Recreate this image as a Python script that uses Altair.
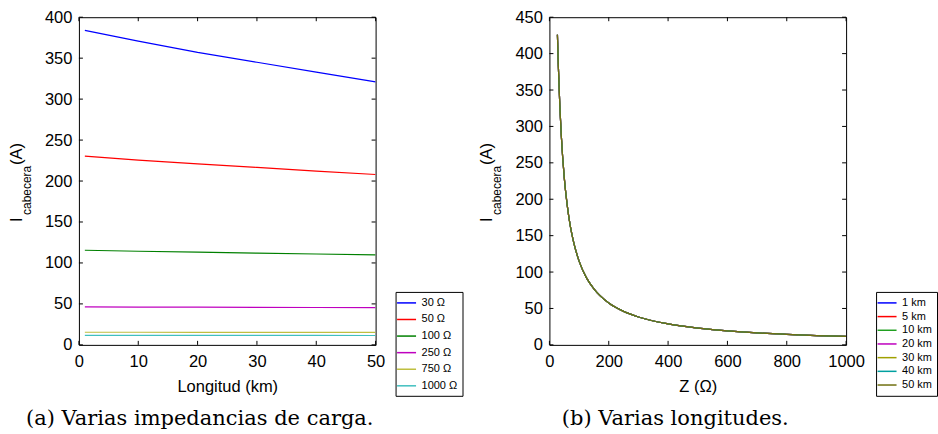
import altair as alt
import pandas as pd

# ---------- data: panel (a) ----------
long_km = [1, 10, 20, 30, 40, 50]
i_30 = [384, 370.7, 357, 345, 333, 321]
i_50 = [230.5, 225.6, 221, 216.6, 212, 208]
i_100 = [115.5, 114.3, 113.1, 112.0, 110.9, 109.8]
i_250 = [46.3, 46.1, 46.0, 45.8, 45.6, 45.5]
i_750 = [15.4, 15.4, 15.3, 15.3, 15.3, 15.2]
i_1000 = [11.6, 11.6, 11.5, 11.5, 11.5, 11.4]
imp_labels = ["30 Ω", "50 Ω", "100 Ω", "250 Ω", "750 Ω", "1000 Ω"]
imp_colors = ["#0000ff", "#ff0000", "#008000", "#bf00bf", "#bfbf40", "#40bfbf"]

# ---------- data: panel (b) ----------
z_ohm = [27, 30, 35, 40, 50, 60, 70, 80, 100, 125, 150, 200, 250, 300, 400, 500, 600, 700, 800, 900, 1000]
i_z = [426, 384, 329, 288, 230, 192, 164, 144, 115, 92, 77, 57.5, 46, 38.3, 28.8, 23, 19.2, 16.4, 14.4, 12.8, 11.5]
len_labels = ["1 km", "5 km", "10 km", "20 km", "30 km", "40 km", "50 km"]
len_colors = ["#0000ff", "#ff0000", "#20a020", "#bf00bf", "#a0a000", "#00a0a0", "#707010"]

xticks_a = [0, 10, 20, 30, 40, 50]
yticks_a = [0, 50, 100, 150, 200, 250, 300, 350, 400]
xticks_b = [0, 200, 400, 600, 800, 1000]
yticks_b = [0, 50, 100, 150, 200, 250, 300, 350, 400, 450]

caption_a = "(a) Varias impedancias de carga."
caption_b = "(b) Varias longitudes."

# ---------- tables ----------
series_a = [i_30, i_50, i_100, i_250, i_750, i_1000]
rows_a = []
for lab, vals in zip(imp_labels, series_a):
    for x, v in zip(long_km, vals):
        rows_a.append({"x": x, "y": v, "s": lab})
df_a = pd.DataFrame(rows_a)

rows_b = []
for lab in len_labels:
    for x, v in zip(z_ohm, i_z):
        rows_b.append({"x": x, "y": v, "s": lab})
df_b = pd.DataFrame(rows_b)

W, H = 297, 328
FONT = "Liberation Sans"
SERIF = "DejaVu Serif"
TL = 4


def panel(df, xdom, ydom, xt, yt, xtitle, labels, colors, legend_x, row_pad, caption, cap_x, interp):
    xs = alt.Scale(domain=xdom, nice=False, zero=False)
    ys = alt.Scale(domain=ydom, nice=False, zero=False)
    ax_x = alt.Axis(values=xt, title=xtitle, labelPadding=9, titlePadding=8, format="d", labelFlush=False)
    ax_y = alt.Axis(values=yt, title=None, labelPadding=7, format="d", labelFlush=False)

    def X():
        return alt.X("x:Q", scale=xs, axis=ax_x)

    def Y():
        return alt.Y("y:Q", scale=ys, axis=ax_y)

    lines = alt.Chart(df).mark_line(strokeWidth=1.2, clip=True, interpolate=interp).encode(
        x=X(),
        y=Y(),
        color=alt.Color(
            "s:N",
            sort=labels,
            scale=alt.Scale(domain=labels, range=colors),
            legend=alt.Legend(
                title=None,
                orient="none",
                legendX=legend_x,
                legendY=275,
                symbolType="M-1.9,0H1.9",
                symbolSize=100,
                symbolStrokeWidth=1.5,
                labelFont=FONT,
                labelFontSize=11,
                labelColor="black",
                labelOffset=9,
                padding=5,
                rowPadding=row_pad,
                strokeColor="black",
                fillColor="white",
                cornerRadius=0,
            ),
        ),
    )

    dfx = pd.DataFrame({"x": xt})
    dfy = pd.DataFrame({"y": yt})
    tb = alt.Chart(dfx).mark_rule(color="black", strokeWidth=1).encode(x=X(), y=alt.value(H), y2=alt.value(H - TL))
    tt = alt.Chart(dfx).mark_rule(color="black", strokeWidth=1).encode(x=X(), y=alt.value(0), y2=alt.value(TL))
    tlft = alt.Chart(dfy).mark_rule(color="black", strokeWidth=1).encode(y=Y(), x=alt.value(0), x2=alt.value(TL))
    trgt = alt.Chart(dfy).mark_rule(color="black", strokeWidth=1).encode(y=Y(), x=alt.value(W), x2=alt.value(W - TL))

    one = pd.DataFrame({"k": [0]})
    t_i = alt.Chart(one).mark_text(text="I", font=FONT, fontSize=16.5, angle=270, align="left",
                                   baseline="alphabetic", color="black").encode(x=alt.value(-57), y=alt.value(205))
    t_sub = alt.Chart(one).mark_text(text="cabecera", font=FONT, fontSize=12, angle=270, align="left",
                                     baseline="alphabetic", color="black").encode(x=alt.value(-48), y=alt.value(198))
    t_a = alt.Chart(one).mark_text(text="(A)", font=FONT, fontSize=16.5, angle=270, align="left",
                                   baseline="alphabetic", color="black").encode(x=alt.value(-57), y=alt.value(148))
    cap = alt.Chart(one).mark_text(text=caption, font=SERIF, fontSize=21, align="center",
                                   baseline="alphabetic", color="black").encode(x=alt.value(cap_x), y=alt.value(408))

    return alt.layer(lines, tb, tt, tlft, trgt, t_i, t_sub, t_a, cap).properties(width=W, height=H)


pa = panel(df_a, [0, 50], [0, 400], xticks_a, yticks_a, "Longitud (km)", imp_labels, imp_colors,
           317, 5.6, caption_a, 121, "linear")
pb = panel(df_b, [0, 1000], [0, 450], xticks_b, yticks_b, "Z (Ω)", len_labels, len_colors,
           327, 2.7, caption_b, 126, "monotone")

chart = alt.hconcat(pa, pb, spacing=174, bounds="flush").resolve_scale(
    color="independent", x="independent", y="independent"
).resolve_legend(color="independent").properties(
    padding={"left": 8, "top": 8, "right": 0, "bottom": 0}
).configure_view(stroke="black", strokeWidth=1).configure_axis(
    domain=False, ticks=False, grid=False,
    labelFont=FONT, labelFontSize=16.5, labelColor="black",
    titleFont=FONT, titleFontSize=16.5, titleFontWeight="normal", titleColor="black",
)

chart.save("out.html", embed_options={"renderer": "svg", "actions": False})
